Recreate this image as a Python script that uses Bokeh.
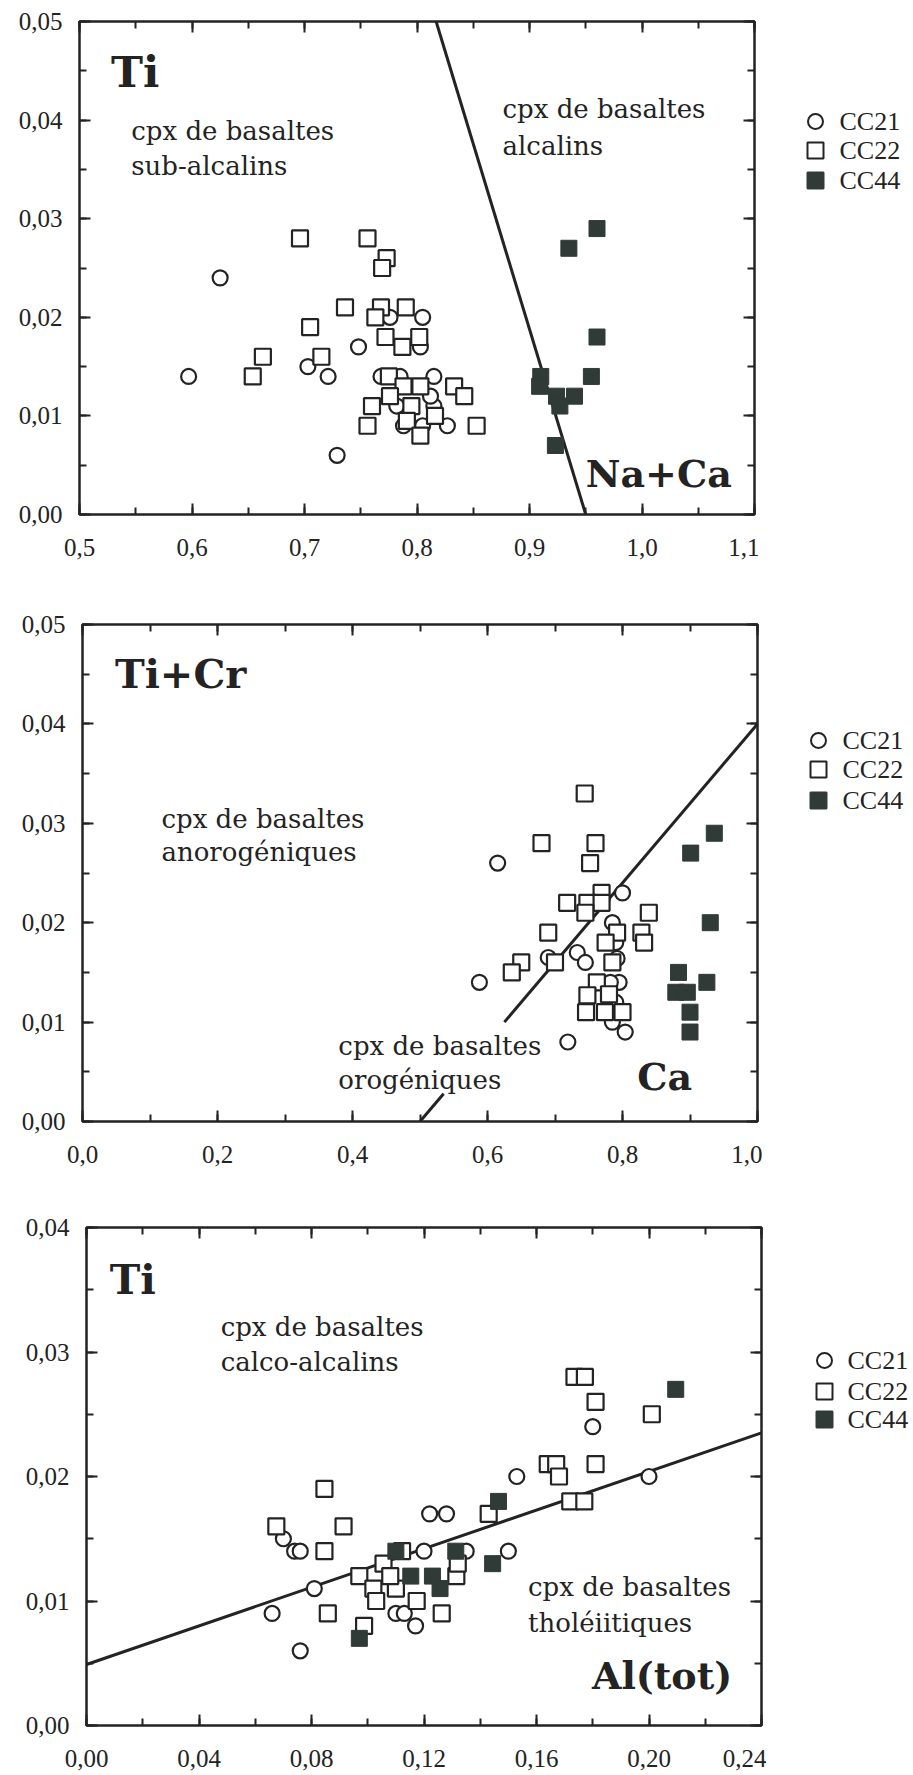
from bokeh.plotting import figure
from bokeh.models import (Range1d, LinearAxis, SingleIntervalTicker,
                          CustomJSTickFormatter, Label)
from bokeh.layouts import column, row
from bokeh.embed import file_html
from bokeh.resources import INLINE

# ---------------- data ----------------
series_names = ["CC21", "CC22", "CC44"]

# Panel 1 : Ti vs Na+Ca
p1_cc21_x = [0.597, 0.625, 0.703, 0.721, 0.748, 0.729, 0.776, 0.805, 0.803, 0.768,
             0.785, 0.815, 0.815, 0.782, 0.788, 0.827, 0.805, 0.812]
p1_cc21_y = [0.014, 0.024, 0.015, 0.014, 0.017, 0.006, 0.020, 0.020, 0.017, 0.014,
             0.014, 0.014, 0.011, 0.011, 0.009, 0.009, 0.009, 0.012]
p1_cc22_x = [0.696, 0.756, 0.773, 0.769, 0.736, 0.768, 0.790, 0.763, 0.705, 0.772,
             0.802, 0.787, 0.663, 0.654, 0.715, 0.775, 0.788, 0.803, 0.833, 0.842,
             0.776, 0.760, 0.795, 0.816, 0.756, 0.853, 0.791, 0.803]
p1_cc22_y = [0.028, 0.028, 0.026, 0.025, 0.021, 0.021, 0.021, 0.020, 0.019, 0.018,
             0.018, 0.017, 0.016, 0.014, 0.016, 0.014, 0.013, 0.013, 0.013, 0.012,
             0.012, 0.011, 0.011, 0.010, 0.009, 0.009, 0.0095, 0.008]
p1_cc44_x = [0.960, 0.935, 0.960, 0.955, 0.910, 0.909, 0.924, 0.940, 0.927, 0.923]
p1_cc44_y = [0.029, 0.027, 0.018, 0.014, 0.014, 0.013, 0.012, 0.012, 0.011, 0.007]
p1_line_x = [0.817, 0.950]
p1_line_y = [0.050, 0.000]

# Panel 2 : Ti+Cr vs Ca
p2_cc21_x = [0.588, 0.615, 0.719, 0.690, 0.733, 0.745, 0.800, 0.785, 0.792, 0.795,
             0.782, 0.790, 0.785, 0.804, 0.790]
p2_cc21_y = [0.014, 0.026, 0.008, 0.0165, 0.017, 0.016, 0.023, 0.020, 0.0164, 0.014,
             0.014, 0.012, 0.010, 0.009, 0.018]
p2_cc22_x = [0.744, 0.680, 0.760, 0.752, 0.769, 0.718, 0.748, 0.769, 0.745, 0.839,
             0.828, 0.832, 0.690, 0.792, 0.775, 0.650, 0.636, 0.700, 0.785, 0.762,
             0.748, 0.780, 0.746, 0.774, 0.800]
p2_cc22_y = [0.033, 0.028, 0.028, 0.026, 0.023, 0.022, 0.022, 0.022, 0.021, 0.021,
             0.019, 0.018, 0.019, 0.019, 0.018, 0.016, 0.015, 0.016, 0.016, 0.014,
             0.0127, 0.0128, 0.011, 0.011, 0.011]
p2_cc44_x = [0.936, 0.901, 0.930, 0.883, 0.925, 0.879, 0.896, 0.900, 0.900]
p2_cc44_y = [0.029, 0.027, 0.020, 0.015, 0.014, 0.013, 0.013, 0.011, 0.009]
p2_line_a_x = [0.500, 0.535]
p2_line_a_y = [0.000, 0.0028]
p2_line_b_x = [0.625, 1.000]
p2_line_b_y = [0.010, 0.040]

# Panel 3 : Ti vs Al(tot)
p3_cc21_x = [0.066, 0.070, 0.074, 0.076, 0.076, 0.081, 0.120, 0.122, 0.128, 0.135,
             0.150, 0.153, 0.180, 0.200, 0.117, 0.110, 0.113, 0.110]
p3_cc21_y = [0.009, 0.015, 0.014, 0.014, 0.006, 0.011, 0.014, 0.017, 0.017, 0.014,
             0.014, 0.020, 0.024, 0.020, 0.008, 0.009, 0.009, 0.011]
p3_cc22_x = [0.0675, 0.0846, 0.0846, 0.0914, 0.0858, 0.097, 0.102, 0.103, 0.1056, 0.110,
             0.1122, 0.1174, 0.0987, 0.1263, 0.1315, 0.132, 0.143, 0.164, 0.167, 0.168,
             0.172, 0.177, 0.1735, 0.1772, 0.181, 0.181, 0.201, 0.108]
p3_cc22_y = [0.016, 0.019, 0.014, 0.016, 0.009, 0.012, 0.011, 0.010, 0.013, 0.011,
             0.014, 0.010, 0.008, 0.009, 0.012, 0.013, 0.017, 0.021, 0.021, 0.020,
             0.018, 0.018, 0.028, 0.028, 0.026, 0.021, 0.025, 0.012]
p3_cc44_x = [0.2095, 0.1465, 0.1444, 0.110, 0.1153, 0.123, 0.1257, 0.1313, 0.097]
p3_cc44_y = [0.027, 0.018, 0.013, 0.014, 0.012, 0.012, 0.011, 0.014, 0.007]
p3_line_x = [0.000, 0.240]
p3_line_y = [0.0049, 0.0235]

# ---------------- styling ----------------
INK = "#232323"
FILL = "#303a37"
TICKFONT = "Liberation Serif"
TXTFONT = "DejaVu Serif"
TICK_FS = 25
TXT_FS = 26


def comma_fmt(digits):
    return CustomJSTickFormatter(
        code="return tick.toFixed(%d).replace('.', ',');" % digits)


def make_panel(xr, yr, x_int, y_int, x_digits, left, top, bottom, fh):
    p = figure(frame_width=675, frame_height=fh, output_backend="svg",
               toolbar_location=None, x_range=Range1d(*xr), y_range=Range1d(*yr),
               min_border_left=left, min_border_top=top, min_border_bottom=bottom,
               min_border_right=5, x_axis_type=None, y_axis_type=None)
    p.grid.visible = False
    p.outline_line_color = INK
    p.outline_line_width = 2.5
    p.background_fill_color = "white"
    p.border_fill_color = "white"
    for loc, dim in (("below", "x"), ("above", "x"), ("left", "y"), ("right", "y")):
        tk = SingleIntervalTicker(interval=x_int if dim == "x" else y_int,
                                  num_minor_ticks=2)
        ax = LinearAxis(ticker=tk,
                        formatter=comma_fmt(x_digits if dim == "x" else 2))
        ax.axis_line_color = None
        ax.major_tick_in = 11
        ax.major_tick_out = 0
        ax.minor_tick_in = 7
        ax.minor_tick_out = 0
        ax.major_tick_line_color = INK
        ax.minor_tick_line_color = INK
        ax.major_tick_line_width = 2
        ax.minor_tick_line_width = 2
        if loc in ("below", "left"):
            ax.major_label_text_font = TICKFONT
            ax.major_label_text_font_size = "%dpx" % TICK_FS
            ax.major_label_text_color = INK
            ax.major_label_standoff = 24 if loc == "below" else 17
        else:
            ax.major_label_text_font_size = "0px"
            ax.major_label_standoff = 0
        p.add_layout(ax, loc)
    return p


def add_points(p, cx, cy, sx, sy, fx, fy):
    p.scatter(cx, cy, marker="circle", size=15, fill_color="white",
              line_color=INK, line_width=2.2)
    p.scatter(sx, sy, marker="square", size=16, fill_color="white",
              line_color=INK, line_width=2.2)
    p.scatter(fx, fy, marker="square", size=16, fill_color=FILL,
              line_color=FILL, line_width=1)


def add_text(p, x, y, txt, size=TXT_FS, bold=False):
    # y is the text baseline; shift to compensate the renderer's baseline handling
    p.add_layout(Label(x=x, y=y, text=txt, text_font=TXTFONT,
                       text_font_size="%dpx" % size, y_offset=round(0.36 * size),
                       text_font_style="bold" if bold else "normal",
                       text_color=INK, text_baseline="alphabetic"))


def make_legend(width, height, xs, ys, xt):
    lg = figure(frame_width=width, frame_height=height, output_backend="svg",
                toolbar_location=None, x_range=Range1d(0, width),
                y_range=Range1d(height, 0), min_border=0,
                x_axis_type=None, y_axis_type=None)
    lg.grid.visible = False
    lg.outline_line_color = None
    markers = ["circle", "square", "square"]
    fills = ["white", "white", FILL]
    lines = [INK, INK, FILL]
    for i, name in enumerate(series_names):
        lg.scatter([xs], [ys[i]], marker=markers[i], size=15 if i == 0 else 16,
                   fill_color=fills[i], line_color=lines[i], line_width=2)
        lg.add_layout(Label(x=xt, y=ys[i], text=name, text_font=TICKFONT,
                            text_font_size="26px", text_color=INK,
                            text_baseline="middle"))
    return lg


# ---------- panel 1 ----------
p1 = make_panel((0.5, 1.1), (0.0, 0.05), 0.1, 0.01, 1, 79, 21, 62, 493)
p1.line(p1_line_x, p1_line_y, line_color=INK, line_width=3)
add_points(p1, p1_cc21_x, p1_cc21_y, p1_cc22_x, p1_cc22_y, p1_cc44_x, p1_cc44_y)
add_text(p1, 0.528, 0.0434, "Ti", 43, True)
add_text(p1, 0.546, 0.0380, "cpx de basaltes")
add_text(p1, 0.546, 0.0344, "sub-alcalins")
add_text(p1, 0.876, 0.0402, "cpx de basaltes")
add_text(p1, 0.876, 0.0365, "alcalins")
add_text(p1, 0.950, 0.0027, "Na+Ca", 38, True)
l1 = make_legend(154, 493, 56, [100, 129, 159], 80)

# ---------- panel 2 ----------
p2 = make_panel((0.0, 1.0), (0.0, 0.05), 0.2, 0.01, 1, 82, 48, 62, 497)
p2.line(p2_line_a_x, p2_line_a_y, line_color=INK, line_width=3)
p2.line(p2_line_b_x, p2_line_b_y, line_color=INK, line_width=3)
add_points(p2, p2_cc21_x, p2_cc21_y, p2_cc22_x, p2_cc22_y, p2_cc44_x, p2_cc44_y)
add_text(p2, 0.048, 0.0437, "Ti+Cr", 40, True)
add_text(p2, 0.117, 0.0295, "cpx de basaltes")
add_text(p2, 0.117, 0.0262, "anorogéniques")
add_text(p2, 0.379, 0.0067, "cpx de basaltes")
add_text(p2, 0.379, 0.0033, "orogéniques")
add_text(p2, 0.822, 0.0031, "Ca", 38, True)
l2 = make_legend(151, 497, 56, [116, 145, 176], 80)

# ---------- panel 3 ----------
p3 = make_panel((0.0, 0.24), (0.0, 0.04), 0.04, 0.01, 2, 86, 44, 50, 498)
p3.line(p3_line_x, p3_line_y, line_color=INK, line_width=3)
add_points(p3, p3_cc21_x, p3_cc21_y, p3_cc22_x, p3_cc22_y, p3_cc44_x, p3_cc44_y)
add_text(p3, 0.0083, 0.0346, "Ti", 41, True)
add_text(p3, 0.0477, 0.0313, "cpx de basaltes")
add_text(p3, 0.0477, 0.0285, "calco-alcalins")
add_text(p3, 0.157, 0.0104, "cpx de basaltes")
add_text(p3, 0.157, 0.0075, "tholéiitiques")
add_text(p3, 0.1797, 0.0029, "Al(tot)", 38, True)
l3 = make_legend(147, 498, 58, [133, 164, 192], 81)

layout = column(row(p1, l1), row(p2, l2), row(p3, l3))
open("out.html", "w").write(file_html(layout, INLINE))
